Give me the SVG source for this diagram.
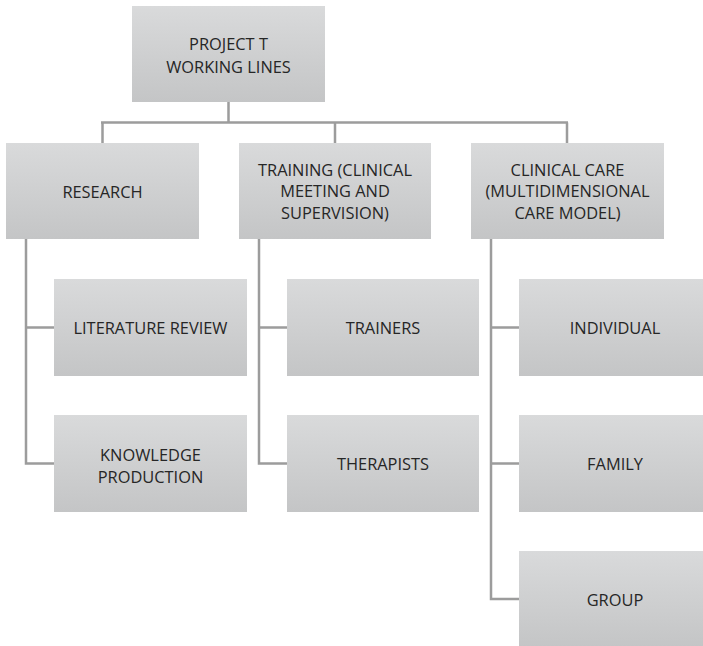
<svg xmlns="http://www.w3.org/2000/svg" width="703" height="646" viewBox="0 0 703 646">
  <defs>
    <linearGradient id="boxFill" x1="0" y1="0" x2="0" y2="1">
      <stop offset="0" stop-color="#d9dadb"/>
      <stop offset="1" stop-color="#c4c5c6"/>
    </linearGradient>
    <style>
      .box { fill: url(#boxFill); }
      .lbl { font-family: "Open Sans", "Liberation Sans", sans-serif; font-size: 16.4px; fill: #262626; text-anchor: middle; }
      .wire { fill: none; stroke: #9c9c9c; stroke-width: 2.5; }
    </style>
  </defs>
  <rect width="703" height="646" fill="#ffffff"/>

  <!-- connectors -->
  <g id="connectors" class="wire">
    <path d="M228.5,102 V122.5 M101,122.5 H568 M102.5,122.5 V143 M335,122.5 V143 M567,122.5 V143"/>
    <path d="M26,239 V463.5 H54 M26,327.5 H54"/>
    <path d="M259,239 V463.5 H287 M259,327.5 H287"/>
    <path d="M491,239 V599 H519 M491,327.5 H519 M491,463.5 H519"/>
  </g>

  <!-- top level -->
  <g id="root">
    <rect class="box" x="132" y="6" width="193" height="96"/>
    <text class="lbl" x="228.5" y="50">PROJECT T</text>
    <text class="lbl" x="228.5" y="73">WORKING LINES</text>
  </g>

  <!-- working lines -->
  <g id="research">
    <rect class="box" x="6" y="143" width="193" height="96"/>
    <text class="lbl" x="102.5" y="197.5">RESEARCH</text>
  </g>
  <g id="training">
    <rect class="box" x="239" y="143" width="192" height="96"/>
    <text class="lbl" x="335" y="175.5">TRAINING (CLINICAL</text>
    <text class="lbl" x="335" y="197">MEETING AND</text>
    <text class="lbl" x="335" y="218.5">SUPERVISION)</text>
  </g>
  <g id="clinical-care">
    <rect class="box" x="471" y="143" width="193" height="96"/>
    <text class="lbl" x="567.5" y="175.5">CLINICAL CARE</text>
    <text class="lbl" x="567.5" y="197">(MULTIDIMENSIONAL</text>
    <text class="lbl" x="567.5" y="218.5">CARE MODEL)</text>
  </g>

  <!-- research branch -->
  <g id="literature-review">
    <rect class="box" x="54" y="279" width="193" height="97"/>
    <text class="lbl" x="150.5" y="333.5">LITERATURE REVIEW</text>
  </g>
  <g id="knowledge-production">
    <rect class="box" x="54" y="415" width="193" height="97"/>
    <text class="lbl" x="150.5" y="460.5">KNOWLEDGE</text>
    <text class="lbl" x="150.5" y="482.5">PRODUCTION</text>
  </g>

  <!-- training branch -->
  <g id="trainers">
    <rect class="box" x="287" y="279" width="192" height="97"/>
    <text class="lbl" x="383" y="333.5">TRAINERS</text>
  </g>
  <g id="therapists">
    <rect class="box" x="287" y="415" width="192" height="97"/>
    <text class="lbl" x="383" y="469.5">THERAPISTS</text>
  </g>

  <!-- clinical care branch -->
  <g id="individual">
    <rect class="box" x="519" y="279" width="193" height="97"/>
    <text class="lbl" x="615" y="333.5">INDIVIDUAL</text>
  </g>
  <g id="family">
    <rect class="box" x="519" y="415" width="193" height="97"/>
    <text class="lbl" x="615" y="469.5">FAMILY</text>
  </g>
  <g id="group">
    <rect class="box" x="519" y="551" width="193" height="96"/>
    <text class="lbl" x="615" y="605.5">GROUP</text>
  </g>
</svg>
